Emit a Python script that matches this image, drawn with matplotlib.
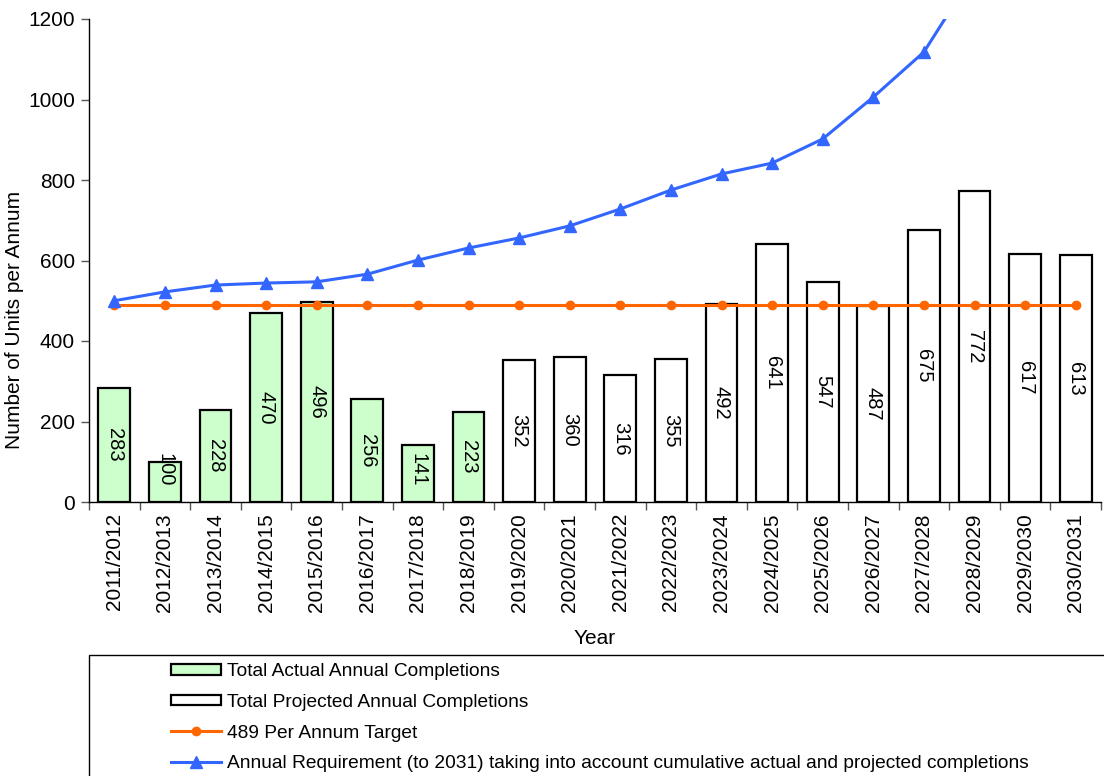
import matplotlib
matplotlib.use("Agg")
import matplotlib.pyplot as plt
from matplotlib.patches import Rectangle
import numpy as np

plt.rcParams['font.family'] = ['Liberation Sans', 'DejaVu Sans']

years = ['2011/2012', '2012/2013', '2013/2014', '2014/2015', '2015/2016',
         '2016/2017', '2017/2018', '2018/2019', '2019/2020', '2020/2021',
         '2021/2022', '2022/2023', '2023/2024', '2024/2025', '2025/2026',
         '2026/2027', '2027/2028', '2028/2029', '2029/2030', '2030/2031']

# completions already built
actual = [283, 100, 228, 470, 496, 256, 141, 223]
# completions expected from 2019/2020 onwards
projected = [352, 360, 316, 355, 492, 641, 547, 487, 675, 772, 617, 613]

target = [489] * 20

# yearly requirement once past delivery is taken off the total
requirement = [500, 522, 539, 544, 547, 566, 601, 631, 656, 686,
               728, 775, 815, 842, 902, 1006, 1118, 1316, 1600, 2410]

x = np.arange(len(years))
x_act = x[:len(actual)]
x_proj = x[len(actual):]

fig = plt.figure(figsize=(11.04, 7.76), dpi=100)
ax = fig.add_axes([89/1104, 1 - 502/776, 1012/1104, 483/776])

bw = 0.63
b1 = ax.bar(x_act, actual, width=bw, color='#ccffcc', edgecolor='black',
            linewidth=1.6, zorder=2)
b2 = ax.bar(x_proj, projected, width=bw, color='white', edgecolor='black',
            linewidth=1.6, zorder=2)

# bar values written sideways in the middle of each bar
for xi, v in zip(list(x_act) + list(x_proj), actual + projected):
    ax.text(xi, max(v / 2, 80), str(v), rotation=270, ha='center',
            va='center', fontsize=14.5, zorder=3)

l1, = ax.plot(x, target, color='#ff6600', linewidth=2.2, marker='o',
              markersize=6, zorder=4)
l2, = ax.plot(x, requirement, color='#3366ff', linewidth=2.2, marker='^',
              markersize=8, zorder=5)

ax.set_xlim(-0.5, len(years) - 0.5)
ax.set_ylim(0, 1200)
ax.set_yticks(np.arange(0, 1201, 200))
ax.set_xticks(x)
ax.set_xticklabels(years, rotation=90)
ax.set_xticks(np.arange(-0.5, len(years), 1), minor=True)
ax.tick_params(axis='x', which='major', length=0, pad=8, labelsize=15)
ax.tick_params(axis='x', which='minor', length=6, width=1, color='#555555')
ax.tick_params(axis='y', length=6, width=1, color='#555555', labelsize=15,
               pad=4)
for s in ['top', 'right']:
    ax.spines[s].set_visible(False)
for s in ['left', 'bottom']:
    ax.spines[s].set_linewidth(1.0)

ax.set_ylabel('Number of Units per Annum', fontsize=15)
ax.yaxis.set_label_coords(-0.064, 0.377)
ax.set_xlabel('Year', fontsize=15, labelpad=12)

# legend box running off the figure edge
fig.patches.append(Rectangle((89/1104, -0.05), 1.0, 1 - 655/776 + 0.05,
                             transform=fig.transFigure, facecolor='white',
                             edgecolor='black', linewidth=1.0, zorder=0))
fig.legend([b1, b2, l1, l2],
           ['Total Actual Annual Completions',
            'Total Projected Annual Completions',
            '489 Per Annum Target',
            'Annual Requirement (to 2031) taking into account cumulative actual and projected completions'],
           loc='upper left', bbox_to_anchor=(171/1104, 1 - 663/776),
           frameon=False, fontsize=13.75, handlelength=2.6, handleheight=0.5,
           handletextpad=0.35, labelspacing=0.72, borderpad=0,
           borderaxespad=0)

plt.savefig('out.png', dpi=100)
